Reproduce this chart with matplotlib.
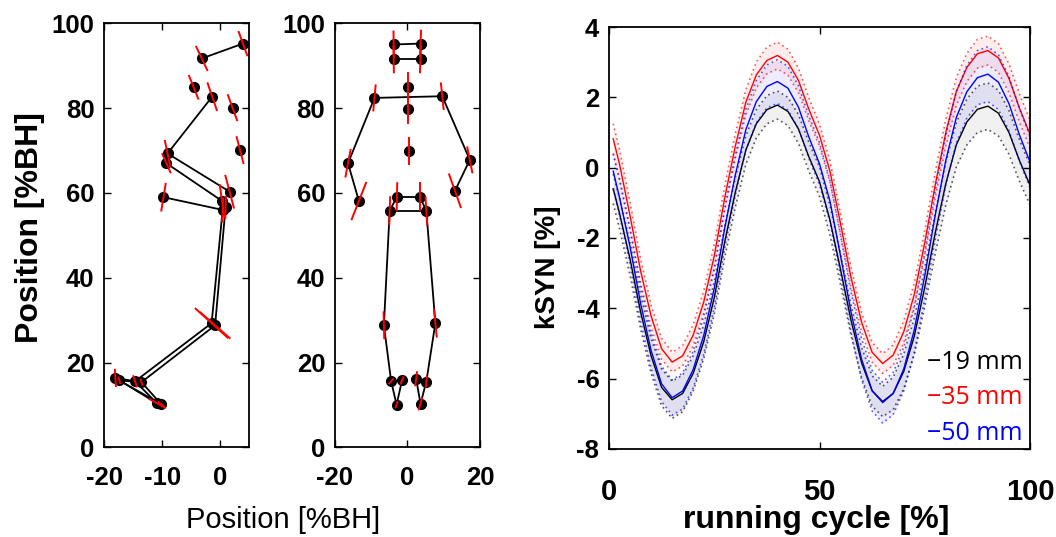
import numpy as np
import matplotlib.pyplot as plt

plt.rcParams['font.family'] = ['Liberation Sans', 'DejaVu Sans']
plt.rcParams['axes.unicode_minus'] = False

# side view markers (%BH) and the red segment through each marker
side_x = [3.9, -3.2, -4.6, -1.4, 2.1, 3.4, -9.1, -9.3, 1.6, 0.3, -9.8, 0.4, 0.9,
          -1.5, -0.9, -14.7, -13.6, -18.1, -17.4, -10.9, -10.2]
side_y = [95.2, 91.7, 84.9, 82.7, 80.1, 70.1, 69.3, 67.0, 60.3, 58.1, 59.0, 56.0, 56.6,
          29.3, 28.8, 15.6, 15.4, 16.4, 15.8, 10.4, 10.2]
side_vx = [1.45, 1.9, 1.57, 1.57, 1.57, 1.16, 0.9, 1.4, 1.45, 0.8, -0.75, -0.17, -0.1,
           5.5, 5.0, 0.58, 0.3, 0.17, 0.3, 2.6, 0.9]
side_vy = [-5.5, -5.5, -5.35, -6.3, -5.9, -6.1, -5.9, -4.3, -7.5, -7.5, -6.3, -5.35, -5.0,
           -6.8, -6.0, -2.4, -1.2, -3.8, -1.3, -2.0, -1.0]
side_links = [(1, 0), (3, 6), (6, 8), (7, 9), (10, 11), (11, 13), (12, 14),
              (13, 15), (14, 16), (15, 17), (16, 18), (17, 19), (18, 20), (15, 19), (16, 20)]

# front view markers
front_x = [-3.8, 3.6, -3.8, 3.6, 0.2, -9.1, 9.6, 0.2, 0.4, -16.4, 17.2, -13.4, 13.1,
           -2.9, 3.4, -4.9, 5.2, -6.5, 7.7, -4.5, -1.5, -3.0, 2.4, 5.2, 3.6]
front_y = [95.0, 95.2, 91.5, 91.5, 84.9, 82.4, 82.8, 79.9, 69.9, 67.0, 67.8, 58.1, 60.5,
           59.1, 59.1, 55.8, 55.8, 28.8, 29.3, 15.6, 15.8, 10.1, 16.2, 15.5, 10.3]
front_vx = [0.1, -0.3, 0.1, -0.3, 0.0, -0.64, 0.74, 0.0, 0.0, -1.38, 1.38, -3.95, 3.2,
            -0.15, 0.0, -0.25, 0.45, 0.18, 0.74, -1.0, -0.7, -0.5, -0.46, -0.3, -0.9]
front_vy = [-6.1, -6.1, -6.1, -6.1, -6.6, -5.9, -6.05, -6.6, -6.3, -6.3, -5.9, -8.6, -7.7,
            -6.4, -6.4, -6.4, -6.4, -6.1, -6.3, -1.0, -1.5, -1.2, -3.1, -2.4, -2.6]
front_links = [(0, 1), (2, 3), (5, 6), (5, 9), (9, 11), (6, 10), (10, 12), (13, 14), (15, 16),
               (13, 15), (14, 16), (15, 17), (17, 19), (19, 21), (21, 20),
               (16, 18), (18, 23), (23, 24), (24, 22)]

# kSYN over the running cycle
run_x = [1, 2.5, 5, 7.5, 10, 12.5, 15, 17.5, 20, 22.5, 25, 27.5, 30, 32.5, 35, 37.5, 40,
         42.5, 45, 47.5, 50, 52.5, 55, 57.5, 60, 62.5, 65, 67.5, 70, 72.5, 75, 77.5, 80,
         82.5, 85, 87.5, 90, 92.5, 95, 97.5, 100]
k_mean = [-0.6, -1.3, -2.6, -4.1, -5.35, -6.25, -6.6, -6.42, -5.85, -4.95, -3.7, -2.1, -0.7,
          0.5, 1.25, 1.65, 1.78, 1.6, 1.1, 0.3, -0.4, -1.5, -2.9, -4.35, -5.55, -6.35,
          -6.65, -6.42, -5.8, -4.8, -3.4, -1.85, -0.45, 0.65, 1.3, 1.66, 1.75, 1.55, 1.0,
          0.2, -0.5]
r_mean = [0.82, 0.1, -1.37, -2.93, -4.22, -5.15, -5.53, -5.35, -4.76, -3.82, -2.51, -0.85,
          0.61, 1.86, 2.64, 3.05, 3.19, 3.0, 2.48, 1.65, 0.92, -0.11, -1.6, -3.13, -4.4,
          -5.25, -5.57, -5.33, -4.67, -3.61, -2.13, -0.48, 1.0, 2.17, 2.85, 3.24, 3.33,
          3.12, 2.54, 1.69, 0.95]
b_mean = [-0.1, -0.85, -2.25, -3.86, -5.2, -6.15, -6.54, -6.35, -5.74, -4.77, -3.43,
          -1.71, -0.21, 1.08, 1.88, 2.31, 2.45, 2.26, 1.72, 0.86, 0.11, -0.96, -2.51,
          -4.12, -5.45, -6.34, -6.68, -6.42, -5.73, -4.62, -3.07, -1.34, 0.21, 1.43, 2.16,
          2.56, 2.66, 2.43, 1.82, 0.93, 0.16]
k_sd = [0.42, 0.44, 0.46, 0.48, 0.5, 0.52, 0.53, 0.52, 0.5, 0.48, 0.46, 0.44, 0.42, 0.41,
        0.4, 0.4, 0.4, 0.4, 0.41, 0.41, 0.42, 0.42, 0.43, 0.43, 0.43, 0.43, 0.43, 0.46,
        0.49, 0.52, 0.55, 0.58, 0.61, 0.63, 0.65, 0.66, 0.66, 0.65, 0.62, 0.59, 0.56]
r_sd = [0.43, 0.41, 0.38, 0.35, 0.32, 0.3, 0.28, 0.29, 0.3, 0.31, 0.33, 0.34, 0.35, 0.36,
        0.37, 0.38, 0.38, 0.37, 0.35, 0.33, 0.31, 0.3, 0.29, 0.29, 0.28, 0.28, 0.28, 0.29,
        0.31, 0.33, 0.35, 0.37, 0.38, 0.39, 0.4, 0.41, 0.41, 0.41, 0.41, 0.4, 0.4]
b_sd = [0.5, 0.5, 0.5, 0.5, 0.5, 0.5, 0.5, 0.51, 0.52, 0.54, 0.55, 0.56, 0.57, 0.58, 0.6,
        0.61, 0.62, 0.62, 0.61, 0.6, 0.6, 0.59, 0.59, 0.58, 0.58, 0.58, 0.58, 0.6, 0.62,
        0.64, 0.66, 0.69, 0.71, 0.73, 0.75, 0.77, 0.78, 0.78, 0.77, 0.75, 0.73]
series = [('\u221219 mm', k_mean, k_sd, 'black', 0.06),
          ('\u221235 mm', r_mean, r_sd, 'red', 0.07),
          ('\u221250 mm', b_mean, b_sd, 'blue', 0.07)]

fig = plt.figure(figsize=(10.56, 5.37), dpi=100)
ax1 = fig.add_axes([0.0988, 0.1667, 0.1373, 0.790])
ax2 = fig.add_axes([0.3172, 0.1667, 0.1373, 0.790])
ax3 = fig.add_axes([0.5767, 0.1639, 0.3987, 0.7858])


def draw_skeleton(ax, xs, ys, vx, vy, links):
    for i, j in links:
        ax.plot([xs[i], xs[j]], [ys[i], ys[j]], color='black', lw=1.3, zorder=2)
    ax.plot(xs, ys, 'o', color='black', ms=7, zorder=3)
    for x, y, dx, dy in zip(xs, ys, vx, vy):
        ax.plot([x - dx / 2, x + dx / 2], [y - dy / 2, y + dy / 2], color='red', lw=1.4, zorder=4)


draw_skeleton(ax1, side_x, side_y, side_vx, side_vy, side_links)
draw_skeleton(ax2, front_x, front_y, front_vx, front_vy, front_links)

ax1.set_xlim(-20, 5)
ax1.set_xticks([-20, -10, 0])
ax2.set_xlim(-20, 20)
ax2.set_xticks([-20, 0, 20])
for ax in (ax1, ax2):
    ax.set_ylim(0, 100)
    ax.set_yticks([0, 20, 40, 60, 80, 100])

# kSYN curves with +/- sd bands
for name, m, sd, col, a in series:
    m = np.array(m)
    sd = np.array(sd)
    ax3.fill_between(run_x, m - sd, m + sd, color=col, alpha=a, lw=0)
    ax3.plot(run_x, m + sd, color=col, lw=1.2, ls=(0, (1, 2)), alpha=0.65)
    ax3.plot(run_x, m - sd, color=col, lw=1.2, ls=(0, (1, 2)), alpha=0.65)
    ax3.plot(run_x, m, color=col, lw=1)

ax3.set_xlim(0, 100)
ax3.set_ylim(-8, 4)
ax3.set_xticks([0, 50, 100])
ax3.set_yticks([-8, -6, -4, -2, 0, 2, 4])

for k, (name, m, sd, col, a) in enumerate(series):
    ax3.text(98.3, -5.55 - k * 1.0, name, color=col, ha='right', va='center',
             fontsize=18, family=['Open Sans', 'DejaVu Sans'])

for ax in (ax1, ax2, ax3):
    ax.tick_params(direction='in', top=True, right=True, length=5, width=1, pad=7,
                   labelsize=18.5)
    for lab in ax.get_xticklabels() + ax.get_yticklabels():
        lab.set_fontweight('bold')
    for s in ax.spines.values():
        s.set_linewidth(1.3)
ax1.tick_params(axis='x', pad=13)
ax2.tick_params(axis='x', pad=13)
ax3.tick_params(axis='x', pad=21, labelsize=21)

fig.text(283 / 1056, 1 - 520 / 537, 'Position [%BH]', ha='center', va='center', fontsize=21)
fig.text(30 / 1056, 1 - 228 / 537, 'Position [%BH]', ha='center', va='center', fontsize=23,
         fontweight='bold', rotation=90)
fig.text(548 / 1056, 1 - 267 / 537, 'kSYN [%]', ha='center', va='center', fontsize=20,
         fontweight='bold', rotation=90)
fig.text(816 / 1056, 1 - 520 / 537, 'running cycle [%]', ha='center', va='center', fontsize=23,
         fontweight='bold')

plt.savefig('out.png', dpi=100)
